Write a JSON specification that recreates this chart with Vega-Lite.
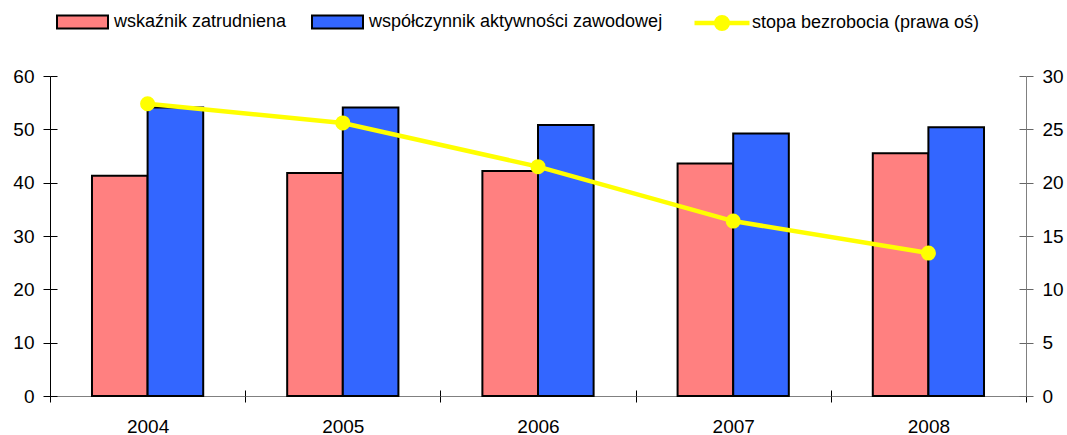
{
  "$schema": "https://vega.github.io/schema/vega-lite/v6.json",
  "width": 976,
  "height": 320,
  "autosize": {"type": "none"},
  "padding": {"left": 50, "top": 76, "right": 41, "bottom": 39},
  "background": "white",
  "config": {
    "view": {"stroke": null},
    "font": "Liberation Sans",
    "axis": {"labelFont": "Liberation Sans", "labelFontSize": 19, "labelColor": "black", "grid": false, "title": null},
    "legend": {"labelFont": "Liberation Sans", "labelFontSize": 18, "labelColor": "black"}
  },
  "datasets": {
    "bars": [
      {"year": "2004", "series": "wskaźnik zatrudniena", "value": 41.3},
      {"year": "2004", "series": "współczynnik aktywności zawodowej", "value": 54.1},
      {"year": "2005", "series": "wskaźnik zatrudniena", "value": 41.8},
      {"year": "2005", "series": "współczynnik aktywności zawodowej", "value": 54.1},
      {"year": "2006", "series": "wskaźnik zatrudniena", "value": 42.2},
      {"year": "2006", "series": "współczynnik aktywności zawodowej", "value": 50.8},
      {"year": "2007", "series": "wskaźnik zatrudniena", "value": 43.6},
      {"year": "2007", "series": "współczynnik aktywności zawodowej", "value": 49.2},
      {"year": "2008", "series": "wskaźnik zatrudniena", "value": 45.5},
      {"year": "2008", "series": "współczynnik aktywności zawodowej", "value": 50.4}
    ],
    "line": [
      {"year": "2004", "series": "stopa bezrobocia (prawa oś)", "rate": 27.4},
      {"year": "2005", "series": "stopa bezrobocia (prawa oś)", "rate": 25.6},
      {"year": "2006", "series": "stopa bezrobocia (prawa oś)", "rate": 21.5},
      {"year": "2007", "series": "stopa bezrobocia (prawa oś)", "rate": 16.4},
      {"year": "2008", "series": "stopa bezrobocia (prawa oś)", "rate": 13.4}
    ]
  },
  "layer": [
    {
      "data": {"name": "bars"},
      "mark": {"type": "bar", "stroke": "black", "strokeWidth": 2},
      "encoding": {
        "x": {
          "field": "year", "type": "nominal",
          "scale": {"type": "band", "paddingInner": 0, "paddingOuter": 0},
          "axis": {"orient": "bottom", "labelAngle": 0, "tickBand": "extent", "tickSize": 6, "tickColor": "black", "domainColor": "#808080", "domainWidth": 1, "labelPadding": 15, "title": null}
        },
        "xOffset": {
          "field": "series", "type": "nominal",
          "sort": ["wskaźnik zatrudniena", "współczynnik aktywności zawodowej"],
          "scale": {"paddingInner": 0, "paddingOuter": 0.755}
        },
        "y": {
          "field": "value", "type": "quantitative",
          "scale": {"domain": [0, 60], "nice": false},
          "axis": {"orient": "left", "values": [0, 10, 20, 30, 40, 50, 60], "tickSize": 7, "tickColor": "black", "domainColor": "black", "labelPadding": 9, "title": null}
        },
        "fill": {
          "field": "series", "type": "nominal",
          "scale": {"domain": ["wskaźnik zatrudniena", "współczynnik aktywności zawodowej"], "range": ["#FF8080", "#3366FF"]},
          "legend": {
            "orient": "none", "legendX": 6, "legendY": -81, "direction": "horizontal", "title": null,
            "symbolType": "M-1,-0.255H1V0.255H-1Z", "symbolSize": 2601,
            "symbolStrokeColor": "black", "symbolStrokeWidth": 2,
            "labelOffset": 5, "columnPadding": 21, "padding": 0, "labelLimit": 500
          }
        }
      }
    },
    {
      "data": {"name": "line"},
      "mark": {"type": "line", "strokeWidth": 4.5, "point": {"filled": true, "size": 170, "fill": "#FFFF00"}},
      "encoding": {
        "x": {"field": "year", "type": "nominal", "axis": null},
        "y": {
          "field": "rate", "type": "quantitative",
          "scale": {"domain": [0, 30], "nice": false},
          "axis": {"orient": "right", "values": [0, 5, 10, 15, 20, 25, 30], "tickSize": 7, "tickColor": "#666666", "domainColor": "#808080", "labelPadding": 9, "title": null}
        },
        "stroke": {
          "field": "series", "type": "nominal",
          "scale": {"range": ["#FFFF00"]},
          "legend": {
            "orient": "none", "legendX": 642, "legendY": -83, "title": null,
            "symbolType": "M-1,0H1M0.21,0A0.21,0.21 0 1,1 -0.21,0A0.21,0.21 0 1,1 0.21,0",
            "symbolSize": 3025, "symbolFillColor": "#FFFF00", "symbolStrokeColor": "#FFFF00", "symbolStrokeWidth": 4.5,
            "labelOffset": 0, "padding": 0, "labelLimit": 500
          }
        }
      }
    },
    {
      "data": {"name": "line"},
      "mark": {"type": "line", "opacity": 0},
      "encoding": {
        "x": {
          "field": "year", "type": "nominal",
          "axis": {"orient": "bottom", "tickBand": "extent", "tickSize": -6, "tickColor": "black", "labels": false, "domain": false, "title": null}
        },
        "y": {
          "field": "rate", "type": "quantitative",
          "scale": {"domain": [0, 30], "nice": false},
          "axis": {"orient": "left", "values": [0, 5, 10, 15, 20, 25, 30], "tickSize": -7, "tickColor": "black", "labels": false, "domain": false, "title": null}
        }
      }
    },
    {
      "data": {"name": "line"},
      "mark": {"type": "line", "opacity": 0},
      "encoding": {
        "x": {"field": "year", "type": "nominal", "axis": null},
        "y": {
          "field": "rate", "type": "quantitative",
          "scale": {"domain": [0, 30], "nice": false},
          "axis": {"orient": "right", "values": [0, 5, 10, 15, 20, 25, 30], "tickSize": -7, "tickColor": "#666666", "labels": false, "domain": false, "title": null}
        }
      }
    }
  ],
  "resolve": {"scale": {"y": "independent"}, "axis": {"x": "independent"}}
}
